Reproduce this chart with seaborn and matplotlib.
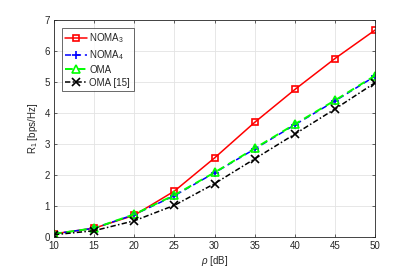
import pandas as pd
import matplotlib.pyplot as plt
import seaborn as sns

# values
rho_db = [10, 15, 20, 25, 30, 35, 40, 45, 50]
noma3 = [0.10, 0.28, 0.70, 1.48, 2.55, 3.70, 4.76, 5.76, 6.68]
noma4 = [0.10, 0.28, 0.72, 1.33, 2.07, 2.84, 3.62, 4.39, 5.19]
oma = [0.10, 0.28, 0.73, 1.35, 2.08, 2.86, 3.64, 4.41, 5.21]
oma_ref = [0.07, 0.20, 0.52, 1.02, 1.72, 2.52, 3.32, 4.13, 4.98]

series_labels = ['NOMA$_3$', 'NOMA$_4$', 'OMA', 'OMA [15]']


def main():
    sns.set_theme(style="whitegrid")
    plt.rcParams['font.family'] = ['Liberation Sans', 'DejaVu Sans']
    plt.rcParams['mathtext.fontset'] = 'custom'
    plt.rcParams['mathtext.rm'] = 'Liberation Sans'
    plt.rcParams['mathtext.it'] = 'Liberation Sans:italic'

    fig = plt.figure(figsize=(4.15, 2.68), dpi=100)
    ax = fig.add_axes([0.130, 0.116, 0.774, 0.809])

    df = pd.DataFrame({'rho': rho_db, 'NOMA3': noma3, 'NOMA4': noma4,
                       'OMA': oma, 'OMA15': oma_ref})

    styles = [
        ('NOMA3', '#ff0000', '-', 's', 5, 1.1),
        ('NOMA4', '#0000ff', (0, (4, 2.5)), '+', 6, 1.1),
        ('OMA', '#00ff00', (0, (4, 2.5)), '^', 6, 1.4),
        ('OMA15', '#000000', (0, (3.5, 1.5, 1, 1.5)), 'x', 5.5, 1.1),
    ]
    for (col, color, ls, mk, ms, lw), label in zip(styles, series_labels):
        sns.lineplot(data=df, x='rho', y=col, ax=ax, color=color, linestyle=ls,
                     marker=mk, markerfacecolor='none', markeredgecolor=color,
                     markersize=ms, markeredgewidth=1.2, linewidth=lw, label=label)

    ax.set_xlim(10, 50)
    ax.set_ylim(0, 7)
    ax.set_xticks(range(10, 51, 5))
    ax.set_yticks(range(0, 8))
    ax.set_xlabel(r'$\rho$ [dB]', fontsize=7, color='#262626', labelpad=2)
    ax.set_ylabel('R$_1$ [bps/Hz]', fontsize=7, color='#262626', labelpad=3)
    ax.tick_params(labelsize=7, colors='#262626', direction='in', length=2.5,
                   width=0.5, pad=3, left=True, bottom=True, top=True, right=True)
    ax.grid(True, color='#e3e3e3', linewidth=0.6)
    for s in ax.spines.values():
        s.set_color('#262626')
        s.set_linewidth(0.6)

    leg = ax.legend(loc='upper left', fontsize=7, frameon=True, fancybox=False,
                    borderpad=0.35, labelspacing=0.3, handlelength=2.2,
                    handletextpad=0.3, borderaxespad=0.8)
    leg.get_frame().set_edgecolor('#262626')
    leg.get_frame().set_linewidth(0.6)

    plt.savefig('out.png', dpi=100)


if __name__ == "__main__":
    main()
